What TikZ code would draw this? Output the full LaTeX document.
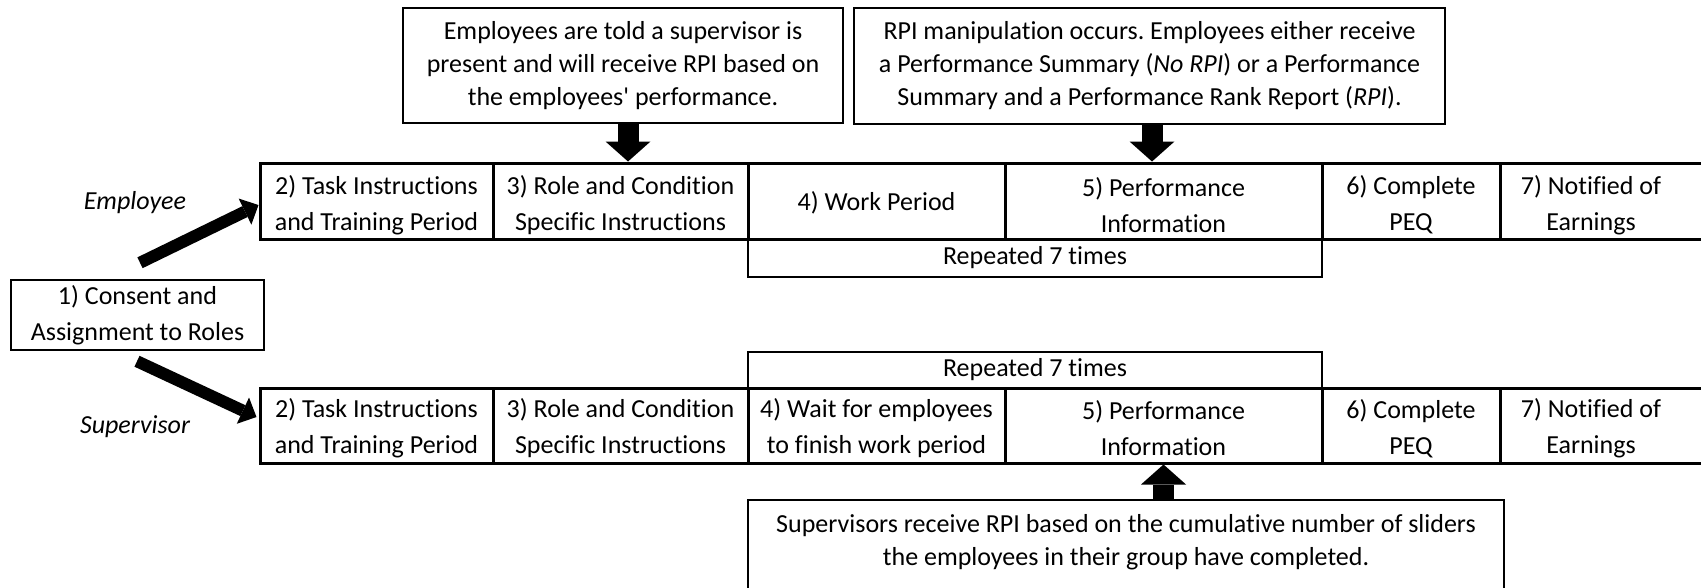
\documentclass[tikz,border=0pt]{standalone}
\usepackage{fontspec}
\setmainfont{Carlito}[Ligatures={NoCommon}]
\usetikzlibrary{arrows.meta,calc}
\frenchspacing
\begin{document}
\begin{tikzpicture}[x=1pt,y=-1pt,
  cell/.style={draw, line width=3pt, inner sep=0pt, minimum height=76pt},
  celltext/.style={inner sep=0pt, align=center, font=\fontsize{26}{36}\selectfont},
  repbox/.style={draw, line width=1.5pt, inner sep=0pt, align=center, font=\fontsize{26}{33}\selectfont},
  callout/.style={draw, line width=1.5pt, inner sep=0pt, align=center, font=\fontsize{26}{33}\selectfont},
  txt/.style={inner sep=0pt, align=center, font=\fontsize{26}{33}\selectfont},
  role/.style={inner sep=0pt, font=\fontsize{26}{33}\selectfont\itshape},
  blk/.style={line width=21pt, -{Triangle[length=20pt,width=45pt,line width=0pt]}},
  diag/.style={line width=12pt, -{Triangle[length=15pt,width=29pt,line width=0pt]}}
]
\useasboundingbox (0,0) rectangle (1701,587);

% top row (Employee)
\node[cell, minimum width=233pt] (t2) at (376.5,201) {};
\node[cell, minimum width=255pt] (t3) at (620.5,201) {};
\node[cell, minimum width=257pt] (t4) at (876.5,201) {};
\node[cell, minimum width=317pt] (t5) at (1163.5,201) {};
\node[cell, minimum width=178pt] (t6) at (1411,201) {};
\node[cell, minimum width=230pt] (t7) at (1615,201) {};
\node[celltext] (t2t) at (376.5,205) {2) Task Instructions\\and Training Period};
\node[celltext] (t3t) at (620.5,205) {3) Role and Condition\\Specific Instructions};
\node[celltext] (t4t) at (876.5,203) {4) Work Period};
\node[celltext] (t5t) at (1163.5,205) {5) Performance\\Information};
\node[celltext] (t6t) at (1411,205) {6) Complete\\PEQ};
\node[celltext] (t7t) at (1591,205) {7) Notified of\\Earnings};

% bottom row (Supervisor)
\node[cell, minimum width=233pt, minimum height=75pt] (b2) at (376.5,425.5) {};
\node[cell, minimum width=255pt, minimum height=75pt] (b3) at (620.5,425.5) {};
\node[cell, minimum width=257pt, minimum height=75pt] (b4) at (876.5,425.5) {};
\node[cell, minimum width=317pt, minimum height=75pt] (b5) at (1163.5,425.5) {};
\node[cell, minimum width=178pt, minimum height=75pt] (b6) at (1411,425.5) {};
\node[cell, minimum width=230pt, minimum height=75pt] (b7) at (1615,425.5) {};
\node[celltext] (b2t) at (376.5,428.5) {2) Task Instructions\\and Training Period};
\node[celltext] (b3t) at (620.5,428.5) {3) Role and Condition\\Specific Instructions};
\node[celltext] (b4t) at (876.5,428.5) {4) Wait for employees\\to finish work period};
\node[celltext] (b5t) at (1163.5,428.5) {5) Performance\\Information};
\node[celltext] (b6t) at (1411,428.5) {6) Complete\\PEQ};
\node[celltext] (b7t) at (1591,428.5) {7) Notified of\\Earnings};

% repeated boxes
\node[repbox, minimum width=574pt, minimum height=38pt] (rt) at (1035,258) {Repeated 7 times};
\node[repbox, minimum width=574pt, minimum height=36pt] (rb) at (1035,370) {Repeated 7 times};

% consent
\node[draw, line width=2.5pt, inner sep=0pt, align=center, font=\fontsize{26}{36}\selectfont, minimum width=253pt, minimum height=70pt] (cons) at (137.5,315) {1) Consent and\\Assignment to Roles};

% role labels
\node[role] (emp) at (135,203) {Employee};
\node[role] (sup) at (135,427) {Supervisor};

% callouts
\node[callout, minimum width=440pt, minimum height=115pt] (k1) at (623,65.5) {Employees are told a supervisor is\\present and will receive RPI based on\\the employees\textquotesingle\ performance.};
\node[callout, minimum width=591pt, minimum height=116pt] (k2) at (1149.5,66) {RPI manipulation occurs. Employees either receive\\a Performance Summary (\textit{No RPI}) or a Performance\\Summary and a Performance Rank Report (\textit{RPI}).};
\node[callout, minimum width=756pt, minimum height=120pt] (k3) at (1126,560) {};
\node[txt] (k3t) at (1126,542) {Supervisors receive RPI based on the cumulative number of sliders\\the employees in their group have completed.};

% block arrows
\coordinate (a1) at ($(k1.south)+(5,0)$);
\draw[blk] (a1) -- (a1 |- t3.north);
\coordinate (a2) at ($(k2.south)+(2.5,0)$);
\draw[blk] (a2) -- (a2 |- t5.north);
\draw[blk] (b5.south |- k3.north) -- (b5.south);

% diagonal arrows
\draw[diag] ($(cons.north)+(2.5,-16)$) -- ($(t2.west)+(0,4)$);
\draw[diag] ($(cons.south)+(-0.5,10)$) -- ($(b2.west)+(-2,-8.5)$);
\end{tikzpicture}
\end{document}
